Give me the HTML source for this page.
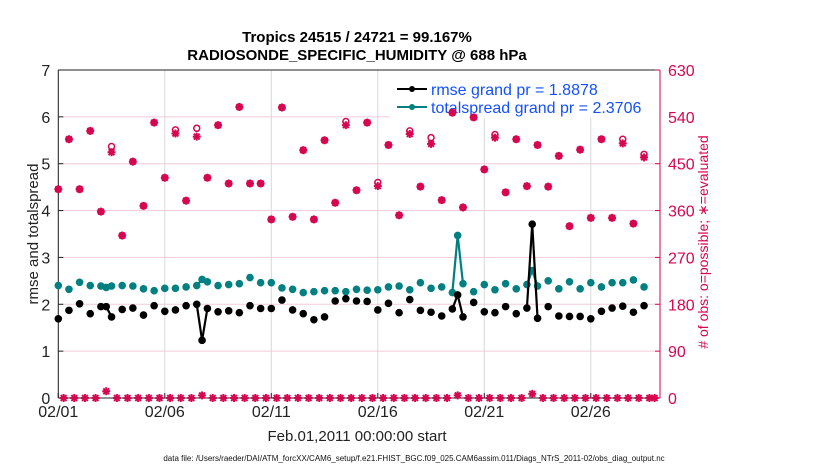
<!DOCTYPE html>
<html><head><meta charset="utf-8"><style>
body{margin:0;background:#fff;}
svg{font-family:"Liberation Sans",sans-serif;}
</style></head><body>
<svg id="chart" width="830" height="470" xmlns="http://www.w3.org/2000/svg">
<text x="357" y="42" text-anchor="middle" font-size="15" font-weight="bold">Tropics 24515 / 24721 = 99.167%</text>
<text x="357" y="60" text-anchor="middle" font-size="15" font-weight="bold">RADIOSONDE_SPECIFIC_HUMIDITY @ 688 hPa</text>
<g id="grid"></g>
<g id="axes"></g>
<g id="legend">
<rect x="390" y="71" width="269" height="46" fill="#fff" stroke="#fff"/>
<line x1="397" y1="89" x2="427" y2="89" stroke="#000" stroke-width="2"/><circle cx="412" cy="89" r="3" fill="#000"/>
<text x="431" y="95" font-size="16" fill="#1350ff">rmse grand pr = 1.8878</text>
<line x1="397" y1="107" x2="427" y2="107" stroke="#008080" stroke-width="2"/><circle cx="412" cy="107" r="3" fill="#008080"/>
<text x="431" y="113" font-size="16" fill="#1350ff">totalspread grand pr = 2.3706</text>
</g>
<g id="marks"></g>
<text transform="translate(38,234) rotate(-90)" text-anchor="middle" font-size="15" fill="#222">rmse and totalspread</text>
<text transform="translate(708,242) rotate(-90)" text-anchor="middle" font-size="14" fill="#d6064f"># of obs: o=possible; ∗=evaluated</text>
<text x="357" y="441" text-anchor="middle" font-size="15" fill="#222">Feb.01,2011 00:00:00 start</text>
<text x="414" y="461" text-anchor="middle" font-size="8" fill="#111">data file: /Users/raeder/DAI/ATM_forcXX/CAM6_setup/f.e21.FHIST_BGC.f09_025.CAM6assim.011/Diags_NTrS_2011-02/obs_diag_output.nc</text>
</svg>
<script>
const mainStart = 0, mainStep = 0.5;
const rmse = [1.69,1.87,2.01,1.80,1.95,1.73,1.89,1.92,1.77,1.97,1.85,1.88,1.97,2.00,1.91,1.84,1.86,1.82,1.97,1.91,1.91,2.09,1.88,1.80,1.67,1.73,2.07,2.12,2.07,2.06,1.88,2.02,1.82,2.10,1.87,1.83,1.75,1.90,1.73,2.04,1.84,1.82,1.95,1.80,1.92,1.70,1.95,1.75,1.74,1.74,1.69,1.85,1.92,1.96,1.83,1.97];
const spread = [2.40,2.32,2.47,2.40,2.39,2.39,2.40,2.39,2.33,2.29,2.34,2.34,2.37,2.40,2.48,2.40,2.42,2.44,2.57,2.46,2.46,2.35,2.32,2.25,2.27,2.29,2.29,2.27,2.32,2.30,2.31,2.37,2.39,2.31,2.46,2.34,2.37,2.25,2.44,2.27,2.42,2.31,2.44,2.33,2.42,2.39,2.50,2.33,2.48,2.33,2.46,2.37,2.46,2.46,2.52,2.37];
const evaluated = [401,497,401,513,358,472,312,454,369,529,423,508,379,502,423,524,412,559,412,412,343,558,348,476,343,495,375,524,399,529,407,486,351,507,406,488,380,548,366,539,439,500,395,497,407,486,406,465,330,477,346,497,346,489,335,462];
const possible = [401,497,401,513,358,483,312,454,369,529,423,515,379,518,423,524,412,559,412,412,343,558,348,476,343,495,375,531,399,529,414,486,351,513,406,500,380,548,366,539,439,506,395,497,407,486,406,465,330,477,346,497,346,497,335,468];
const extraDays = [2.25,6.75,18.75,22.25];
const extraRmse = [1.95,1.23,2.20,3.71];
const extraSpread = [2.36,2.53,3.47,2.72];
const extraObs = [13,5,5,8];
const zeroDays = [0.25,0.75,1.25,1.75,2.75,3.25,3.75,4.25,4.75,5.25,5.75,6.25,7.25,7.75,8.25,8.75,9.25,9.75,10.25,10.75,11.25,11.75,12.25,12.75,13.25,13.75,14.25,14.75,15.25,15.75,16.25,16.75,17.25,17.75,18.25,19.25,19.75,20.25,20.75,21.25,21.75,22.75,23.25,23.75,24.25,24.75,25.25,25.75,26.25,26.75,27.25,27.75,28.0];
const zeroObs = zeroDays.map(()=>0);
const xTickDays = [0,5,10,15,20,25];
const xTickLabels = ["02/01","02/06","02/11","02/16","02/21","02/26"];
const yTicks = [0,1,2,3,4,5,6,7];
const y2Ticks = [0,90,180,270,360,450,540,630];

const X0=58.3, PX=21.3, Y0=398, PY=46.86, XR=660, YT=70;
const xs = d => X0 + d*PX;
const ys = v => Y0 - v*PY;
const ys2 = o => Y0 - o/90*PY;
const NS="http://www.w3.org/2000/svg";
function mk(parent,tag,attrs){const e=document.createElementNS(NS,tag);for(const k in attrs)e.setAttribute(k,attrs[k]);parent.appendChild(e);return e;}
const grid=document.getElementById('grid'), axes=document.getElementById('axes'), marks=document.getElementById('marks');

mk(grid,'rect',{x:X0,y:YT,width:XR-X0,height:Y0-YT,fill:'#fff'});
y2Ticks.forEach(t=>{const l=mk(grid,'line',{x1:X0,x2:XR,y1:ys2(t),y2:ys2(t),stroke:'#f3cadb','stroke-width':1});

});
xTickDays.forEach((d,i)=>{const l=mk(grid,'line',{x1:xs(d),x2:xs(d),y1:YT,y2:Y0,stroke:'#d8d8d8','stroke-width':1});


const tk=mk(axes,'line',{x1:xs(d),x2:xs(d),y1:Y0,y2:Y0-5,stroke:'#222'});


const t=mk(axes,'text',{x:xs(d),y:Y0+19,'text-anchor':'middle','font-size':16,fill:'#222'});t.textContent=xTickLabels[i];

});
mk(axes,'line',{x1:X0,x2:X0,y1:YT,y2:Y0,stroke:'#222'});
mk(axes,'line',{x1:X0,x2:XR,y1:Y0,y2:Y0,stroke:'#222'});
mk(axes,'line',{x1:X0,x2:XR,y1:YT,y2:YT,stroke:'#222'});
mk(axes,'line',{x1:XR,x2:XR,y1:YT,y2:Y0,stroke:'#d6064f'});
yTicks.forEach(v=>{const tk=mk(axes,'line',{x1:X0,x2:X0+5,y1:ys(v),y2:ys(v),stroke:'#222'});


const t=mk(axes,'text',{x:X0-8,y:ys(v)+6,'text-anchor':'end','font-size':16,fill:'#222'});t.textContent=v;

});
y2Ticks.forEach(v=>{const tk=mk(axes,'line',{x1:XR-5,x2:XR,y1:ys2(v),y2:ys2(v),stroke:'#d6064f'});


const t=mk(axes,'text',{x:XR+8,y:ys2(v)+6,'font-size':16,fill:'#d6064f'});t.textContent=v;

});

function star(cx,cy){const g=mk(marks,'g',{stroke:'#d6064f','stroke-width':2});
const r=4;
mk(g,'line',{x1:cx-r,x2:cx+r,y1:cy,y2:cy});mk(g,'line',{x1:cx,x2:cx,y1:cy-r,y2:cy+r});
mk(g,'line',{x1:cx-2.9,x2:cx+2.9,y1:cy-2.9,y2:cy+2.9});mk(g,'line',{x1:cx-2.9,x2:cx+2.9,y1:cy+2.9,y2:cy-2.9});
mk(g,'circle',{cx:cx,cy:cy,r:2,fill:'#d6064f',stroke:'none'});
return g;}
function ring(cx,cy){return mk(marks,'circle',{cx:cx,cy:cy,r:3,fill:'none',stroke:'#d6064f','stroke-width':1.5});}

possible.forEach((o,i)=>{const c=ring(xs(mainStart+i*mainStep),ys2(o));

});
evaluated.forEach((o,i)=>{const g=star(xs(mainStart+i*mainStep),ys2(o));

});
zeroDays.forEach((d,i)=>{const g=star(xs(d),ys2(zeroObs[i]));

});
extraDays.forEach((d,i)=>{const g=star(xs(d),ys2(extraObs[i]));

});

function series(mainVals,extraVals,color,name){
  const pts=mainVals.map((v,i)=>({d:mainStart+i*mainStep,v:v}));
  extraDays.forEach((d,i)=>pts.push({d:d,v:extraVals[i]}));
  pts.sort((a,b)=>a.d-b.d);
  for(let i=1;i<pts.length;i++){
    if(pts[i].d-pts[i-1].d<=0.26){
      const l=mk(marks,'line',{x1:xs(pts[i-1].d),y1:ys(pts[i-1].v),x2:xs(pts[i].d),y2:ys(pts[i].v),stroke:color,'stroke-width':2.2});
      
      
    }
  }
  pts.forEach(p=>{const c=mk(marks,'circle',{cx:xs(p.d),cy:ys(p.v),r:3.8,fill:color});
  
  });
}
series(spread,extraSpread,'#008080','totalspread');
series(rmse,extraRmse,'#000000','rmse');
</script>
</body></html>
